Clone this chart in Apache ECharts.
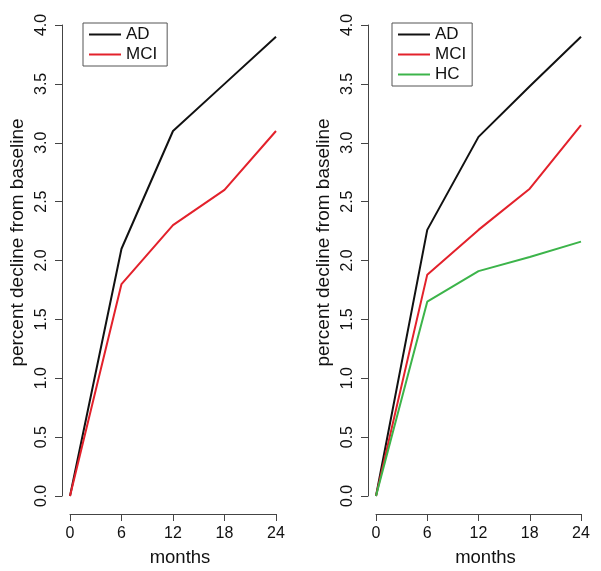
<!DOCTYPE html>
<html><head><meta charset="utf-8">
<script src="https://cdn.jsdelivr.net/npm/echarts@6/dist/echarts.min.js"></script>
<style>html,body{margin:0;padding:0;background:#fff}#c{width:601px;height:571px}</style>
</head><body><div id="c"></div>
<script>
const months = [0, 6, 12, 18, 24];
const leftAD = [0, 2.1, 3.1, 3.5, 3.9];
const leftMCI = [0, 1.8, 2.3, 2.6, 3.1];
const rightAD = [0, 2.26, 3.05, 3.48, 3.9];
const rightMCI = [0, 1.88, 2.26, 2.61, 3.15];
const rightHC = [0, 1.65, 1.91, 2.03, 2.16];
const yTicks = ['0.0','0.5','1.0','1.5','2.0','2.5','3.0','3.5','4.0'];

const FONT = '"Liberation Sans", Arial, Helvetica, sans-serif';
const AX = '#444';
const colors = {AD: '#111111', MCI: '#e3212b', HC: '#3cb44a'};
const pair = v => months.map((m, i) => [m, v[i]]);

function xAx(gi) {
  return {
    gridIndex: gi, type: 'value', min: 0, max: 24, interval: 6, offset: 18,
    name: 'months', nameLocation: 'middle', nameGap: 34,
    nameTextStyle: {fontFamily: FONT, fontSize: 18.5, color: '#111', padding: [0, 0, 0, 14]},
    axisLine: {onZero: false, lineStyle: {color: AX, width: 1}},
    axisTick: {length: 7, lineStyle: {color: AX}},
    axisLabel: {fontFamily: FONT, fontSize: 16, color: '#111', margin: 12},
    splitLine: {show: false}
  };
}
function yAx(gi) {
  return {
    gridIndex: gi, type: 'value', min: 0, max: 4, interval: 0.5, offset: 8,
    name: 'percent decline from baseline', nameLocation: 'middle', nameRotate: 90, nameGap: 35,
    nameTextStyle: {fontFamily: FONT, fontSize: 19, color: '#111', padding: [0, 0, 0, 36]},
    axisLine: {show: true, onZero: false, lineStyle: {color: AX, width: 1}},
    axisTick: {show: true, length: 7, lineStyle: {color: AX}},
    axisLabel: {fontFamily: FONT, fontSize: 16, color: '#111', rotate: 90, margin: 12,
      formatter: v => yTicks[Math.round(v / 0.5)]},
    splitLine: {show: false}
  };
}
function ser(name, data, xi) {
  return {name, type: 'line', xAxisIndex: xi, yAxisIndex: xi, data: pair(data),
    symbol: 'none', lineStyle: {width: 2, color: colors[name]}, itemStyle: {color: colors[name]},
    silent: true, animation: false};
}
const legendCommon = {
  orient: 'vertical', icon: 'rect', itemWidth: 32, itemHeight: 2, itemGap: 3,
  borderColor: '#555', borderWidth: 1,
  textStyle: {fontFamily: FONT, fontSize: 17, color: '#111'},
  selectedMode: false
};
const option = {
  backgroundColor: '#fff',
  animation: false,
  grid: [
    {left: 70, top: 25, width: 206, height: 471, outerBoundsMode: 'none', containLabel: false},
    {left: 376, top: 25, width: 205, height: 471, outerBoundsMode: 'none', containLabel: false}
  ],
  xAxis: [xAx(0), xAx(1)],
  yAxis: [yAx(0), yAx(1)],
  legend: [
    Object.assign({}, legendCommon, {left: 83, top: 23, padding: [3, 10, 3, 6], data: ['AD', 'MCI']}),
    Object.assign({}, legendCommon, {left: 392, top: 23, padding: [3, 6, 3, 6], data: ['AD', 'MCI', 'HC']})
  ],
  series: [
    ser('AD', leftAD, 0), ser('MCI', leftMCI, 0),
    ser('AD', rightAD, 1), ser('MCI', rightMCI, 1), ser('HC', rightHC, 1)
  ]
};
echarts.init(document.getElementById('c'), null, {renderer: 'canvas'}).setOption(option);
</script></body></html>
